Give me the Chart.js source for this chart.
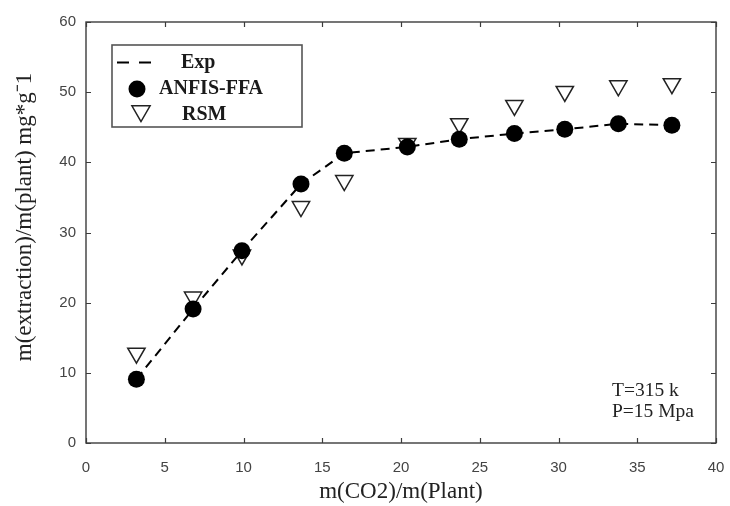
<!DOCTYPE html>
<html>
<head>
<meta charset="utf-8">
<script src="https://cdn.jsdelivr.net/npm/chart.js@4.4.1/dist/chart.umd.min.js"></script>
<style>
  html, body { margin: 0; padding: 0; background: #ffffff; }
  #wrap { width: 730px; height: 506px; }
</style>
</head>
<body>
<div id="wrap"><canvas id="c" width="730" height="506"></canvas></div>
<script>
// ---- data ----
const massRatio = [3.2, 6.8, 9.9, 13.65, 16.4, 20.4, 23.7, 27.2, 30.4, 33.8, 37.2];
const expValues = [9.1, 19.1, 27.4, 36.9, 41.3, 42.2, 43.3, 44.1, 44.7, 45.5, 45.3];
const anfisValues = [9.1, 19.1, 27.4, 36.9, 41.3, 42.2, 43.3, 44.1, 44.7, 45.5, 45.3];
const rsmValues = [12.8, 20.8, 26.8, 33.7, 37.4, 42.7, 45.5, 48.1, 50.1, 50.9, 51.2];
const seriesNames = ['Exp', 'ANFIS-FFA', 'RSM'];
const xTicks = [0, 5, 10, 15, 20, 25, 30, 35, 40];
const yTicks = [0, 10, 20, 30, 40, 50, 60];
const xTitle = 'm(CO2)/m(Plant)';
const yTitle = 'm(extraction)/m(plant) mg*g\u207B1';
const noteLines = ['T=315 k', 'P=15 Mpa'];

const toPts = (ys) => massRatio.map((x, i) => ({ x: x, y: ys[i] }));

const FRAME = '#3c3c3c';
const SERIF = '"Liberation Serif", "Times New Roman", serif';

// frame with inward ticks on all four sides
const framePlugin = {
  id: 'frame',
  afterDatasetsDraw(chart) {
    const { ctx, chartArea: a, scales } = chart;
    ctx.save();
    ctx.strokeStyle = FRAME;
    ctx.lineWidth = 1.4;
    ctx.strokeRect(a.left, a.top, a.right - a.left, a.bottom - a.top);
    const tl = 5;
    ctx.beginPath();
    xTicks.forEach(v => {
      const px = Math.round(scales.x.getPixelForValue(v)) + 0.5;
      ctx.moveTo(px, a.bottom); ctx.lineTo(px, a.bottom - tl);
      ctx.moveTo(px, a.top); ctx.lineTo(px, a.top + tl);
    });
    yTicks.forEach(v => {
      const py = Math.round(scales.y.getPixelForValue(v)) + 0.5;
      ctx.moveTo(a.left, py); ctx.lineTo(a.left + tl, py);
      ctx.moveTo(a.right, py); ctx.lineTo(a.right - tl, py);
    });
    ctx.lineWidth = 1.2;
    ctx.stroke();
    ctx.restore();
  }
};

// y-axis title, drawn rotated beside the axis
const yTitlePlugin = {
  id: 'yTitle',
  afterDraw(chart) {
    const { ctx } = chart;
    ctx.save();
    ctx.translate(25, 217);
    ctx.rotate(-Math.PI / 2);
    ctx.fillStyle = '#222222';
    ctx.font = '23px ' + SERIF;
    ctx.textAlign = 'center';
    ctx.textBaseline = 'middle';
    ctx.fillText(yTitle, 0, 0);
    ctx.restore();
  }
};

// legend box in the upper left of the plot area
const legendPlugin = {
  id: 'boxLegend',
  afterDraw(chart) {
    const { ctx } = chart;
    const ds = chart.data.datasets;
    ctx.save();
    ctx.fillStyle = '#ffffff';
    ctx.fillRect(112, 45, 190, 82);
    ctx.strokeStyle = '#555555';
    ctx.lineWidth = 1.6;
    ctx.strokeRect(112, 45, 190, 82);
    // Exp: dashed line sample
    ctx.strokeStyle = '#000000';
    ctx.lineWidth = 2;
    ctx.setLineDash([12, 10]);
    ctx.beginPath();
    ctx.moveTo(117, 62.5); ctx.lineTo(157, 62.5);
    ctx.stroke();
    ctx.setLineDash([]);
    // ANFIS: filled circle
    ctx.fillStyle = '#000000';
    ctx.beginPath();
    ctx.arc(137, 89, 8.5, 0, Math.PI * 2);
    ctx.fill();
    // RSM: inverted triangle
    const cx = 141, cy = 111, r = 10.5;
    ctx.beginPath();
    for (let k = 0; k < 3; k++) {
      const ang = Math.PI + k * 2 * Math.PI / 3;
      const px = cx + Math.sin(ang) * r, py = cy - Math.cos(ang) * r;
      if (k === 0) ctx.moveTo(px, py); else ctx.lineTo(px, py);
    }
    ctx.closePath();
    ctx.fillStyle = '#ffffff';
    ctx.fill();
    ctx.strokeStyle = '#222222';
    ctx.lineWidth = 1.5;
    ctx.stroke();
    // labels
    ctx.fillStyle = '#1a1a1a';
    ctx.font = 'bold 20px ' + SERIF;
    ctx.textBaseline = 'middle';
    ctx.textAlign = 'left';
    ctx.fillText(ds[0].label, 181, 63);
    ctx.fillText(ds[1].label, 159, 89);
    ctx.fillText(ds[2].label, 182, 115);
    ctx.restore();
  }
};

// condition note at lower right
const notePlugin = {
  id: 'note',
  afterDraw(chart) {
    const { ctx } = chart;
    ctx.save();
    ctx.fillStyle = '#222222';
    ctx.font = '19.5px ' + SERIF;
    ctx.textBaseline = 'middle';
    ctx.textAlign = 'left';
    ctx.fillText(noteLines[0], 612, 391);
    ctx.fillText(noteLines[1], 612, 412);
    ctx.restore();
  }
};

new Chart(document.getElementById('c'), {
  type: 'scatter',
  data: {
    datasets: [
      {
        label: seriesNames[0],
        data: toPts(expValues),
        showLine: true,
        borderColor: '#000000',
        borderWidth: 2,
        borderDash: [9, 6],
        pointRadius: 0,
        fill: false,
        order: 2
      },
      {
        label: seriesNames[1],
        data: toPts(anfisValues),
        showLine: false,
        pointStyle: 'circle',
        pointRadius: 8.5,
        pointBackgroundColor: '#000000',
        pointBorderColor: '#000000',
        pointBorderWidth: 0,
        order: 0
      },
      {
        label: seriesNames[2],
        data: toPts(rsmValues),
        showLine: false,
        pointStyle: 'triangle',
        pointRotation: 180,
        pointRadius: 10,
        pointBackgroundColor: '#ffffff',
        pointBorderColor: '#222222',
        pointBorderWidth: 1.5,
        order: 1
      }
    ]
  },
  options: {
    responsive: false,
    animation: false,
    layout: { padding: { top: 22, right: 14, left: 0, bottom: 0 } },
    plugins: {
      legend: { display: false },
      tooltip: { enabled: false }
    },
    scales: {
      x: {
        type: 'linear',
        min: 0, max: 40,
        afterBuildTicks: (s) => { s.ticks = xTicks.map(v => ({ value: v })); },
        afterFit: (s) => { s.height = 63; s.paddingLeft = 0; s.paddingRight = 0; },
        grid: { display: false, drawTicks: false },
        border: { display: false },
        ticks: {
          padding: 16,
          color: '#444444',
          font: { family: '"Liberation Sans", Arial, sans-serif', size: 15 }
        },
        title: {
          display: true,
          text: xTitle,
          color: '#222222',
          font: { family: SERIF, size: 23 },
          padding: { top: 0, bottom: 0 }
        }
      },
      y: {
        type: 'linear',
        min: 0, max: 60,
        afterBuildTicks: (s) => { s.ticks = yTicks.map(v => ({ value: v })); },
        afterFit: (s) => { s.width = 86; s.paddingTop = 0; s.paddingBottom = 0; },
        grid: { display: false, drawTicks: false },
        border: { display: false },
        ticks: {
          padding: 10,
          color: '#444444',
          font: { family: '"Liberation Sans", Arial, sans-serif', size: 15 }
        },
        title: { display: false }
      }
    }
  },
  plugins: [framePlugin, yTitlePlugin, legendPlugin, notePlugin]
});
</script>
</body>
</html>
